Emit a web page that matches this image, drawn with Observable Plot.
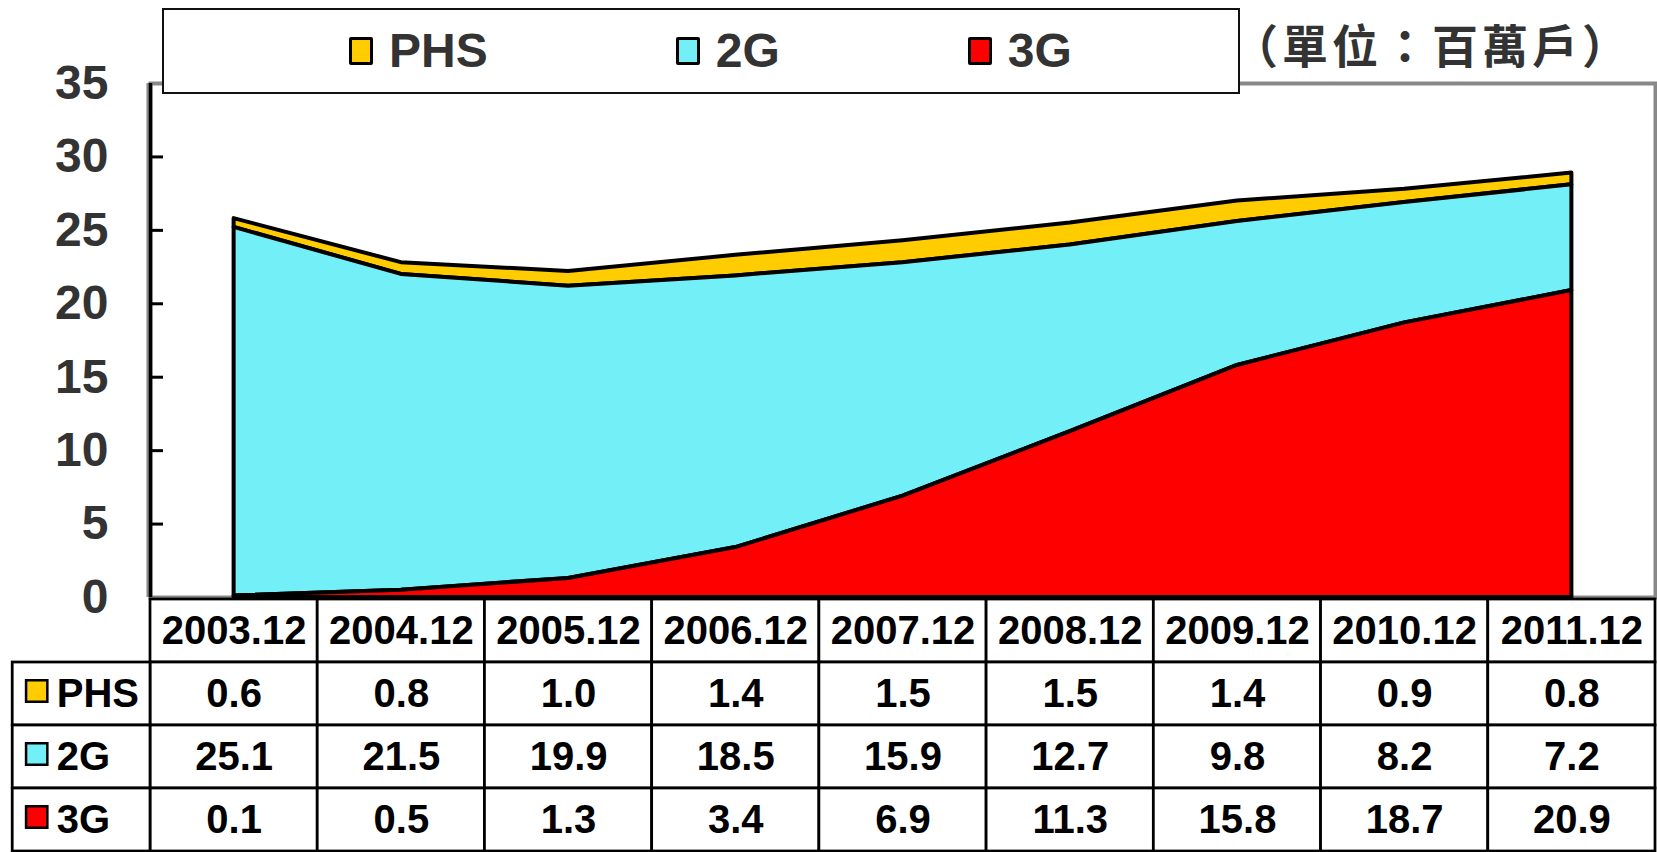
<!DOCTYPE html>
<html>
<head>
<meta charset="utf-8">
<script src="https://cdn.jsdelivr.net/npm/d3@7"></script>
<script src="https://cdn.jsdelivr.net/npm/@observablehq/plot@0.6"></script>
<style>
  body { margin: 0; background: #fff; }
  #wrap { position: relative; width: 1657px; height: 852px; overflow: hidden; font-family: "Liberation Sans", Arial, sans-serif; }
  #chart, #table { position: absolute; left: 0; }
  #chart { top: 0; }
  #table { top: 595px; }
  #legend { position: absolute; left: 162px; top: 8px; width: 1078px; height: 86px; box-sizing: border-box;
            border: 2.5px solid #111; background: #fff; display: flex; align-items: center; padding-left: 185px; gap: 188px; }
  .item { display: flex; align-items: center; }
  .sw { width: 18px; height: 22px; border: 3px solid #000; border-radius: 2px; }
  .lab { margin-left: 16px; font-size: 48px; font-weight: bold; color: #333; line-height: 1; }
  #unit { position: absolute; left: 1232px; top: 16px; font-family: "Noto Sans CJK TC", "Noto Sans CJK SC", sans-serif;
          font-size: 46px; font-weight: 700; color: #333; letter-spacing: 4px; line-height: 1.2; white-space: nowrap; }
</style>
</head>
<body>
<div id="wrap">
  <div id="chart"></div>
  <div id="table"></div>
  <div id="legend"></div>
  <div id="unit">（單位：百萬戶）</div>
</div>
<script>
// ---- data ----
const periods = ["2003.12","2004.12","2005.12","2006.12","2007.12","2008.12","2009.12","2010.12","2011.12"];
const phs = [0.6, 0.8, 1.0, 1.4, 1.5, 1.5, 1.4, 0.9, 0.8];
const g2  = [25.1, 21.5, 19.9, 18.5, 15.9, 12.7, 9.8, 8.2, 7.2];
const g3  = [0.1, 0.5, 1.3, 3.4, 6.9, 11.3, 15.8, 18.7, 20.9];
const seriesNames  = ["PHS", "2G", "3G"];
const seriesColors = ["#FFCC00", "#73EFF8", "#FF0000"];
const yTicks = [0, 5, 10, 15, 20, 25, 30, 35];

const valuesBySeries = { "PHS": phs, "2G": g2, "3G": g3 };
const rows = periods.flatMap((p, i) => seriesNames.map(s => ({ i, period: p, series: s, value: valuesBySeries[s][i] })));

const W = 1657, ML = 150, MR = 2;
const labelColWidth = 0.824; // width of row-label column, in column units
const font = "'Liberation Sans', Arial, sans-serif";

// ---- chart ----
const chart = Plot.plot({
  width: W, height: 640,
  marginTop: 83, marginBottom: 43, marginLeft: ML, marginRight: MR,
  style: { fontFamily: font, background: "transparent" },
  x: { type: "linear", domain: [-0.5, periods.length - 0.5], axis: null },
  y: { domain: [0, 35], axis: null },
  color: { domain: seriesNames, range: seriesColors },
  marks: [
    Plot.frame({ stroke: "#888", strokeWidth: 4 }),
    Plot.areaY(rows, Plot.stackY({ order: ["3G", "2G", "PHS"] }, {
      x: "i", y: "value", z: "series", fill: "series",
      stroke: "#000", strokeWidth: 4, strokeLinejoin: "round"
    })),
    Plot.ruleX([-0.5], { stroke: "#888", strokeWidth: 3, dx: -2.5 }),
    Plot.ruleX([-0.5], { stroke: "#000", strokeWidth: 3.5 }),
    Plot.axisY({ ticks: yTicks.filter(t => t > 0 && t < 35), tickSize: -13, tickFormat: () => "",
                 color: "#000", strokeWidth: 3, label: null }),
    Plot.axisY({ ticks: yTicks, tickSize: 0, tickPadding: 42, fontSize: 48, fontWeight: "bold",
                 color: "#333", label: null })
  ]
});
document.getElementById("chart").append(chart);

// ---- data table ----
const cellStyle = { fill: "#fff", stroke: "#000", strokeWidth: 2.75 };
const textStyle = { fontSize: 40, fontWeight: "bold", fill: "#000" };
const table = Plot.plot({
  width: W, height: 257,
  marginTop: 2, marginBottom: 0, marginLeft: ML, marginRight: MR,
  style: { fontFamily: font, background: "transparent" },
  x: { type: "linear", domain: [-0.5, periods.length - 0.5], axis: null },
  y: { type: "band", domain: ["header", ...seriesNames], padding: 0, axis: null },
  color: { domain: seriesNames, range: seriesColors },
  marks: [
    Plot.barX(periods, { x1: (d, i) => i - 0.5, x2: (d, i) => i + 0.5, y: () => "header", ...cellStyle }),
    Plot.barX(rows, { x1: d => d.i - 0.5, x2: d => d.i + 0.5, y: "series", ...cellStyle }),
    Plot.barX(seriesNames, { x1: -0.5 - labelColWidth, x2: -0.5, y: d => d, ...cellStyle }),
    Plot.text(periods, { x: (d, i) => i, y: () => "header", text: d => d, ...textStyle }),
    Plot.text(rows, { x: "i", y: "series", text: d => d.value.toFixed(1), ...textStyle }),
    Plot.dot(seriesNames, { x: -0.5 - labelColWidth, y: d => d, dx: 24, dy: -3, symbol: "square", r: 12,
                            fill: d => d, stroke: "#000", strokeWidth: 2.5 }),
    Plot.text(seriesNames, { x: -0.5 - labelColWidth, y: d => d, dx: 44, text: d => d, textAnchor: "start", ...textStyle })
  ]
});
document.getElementById("table").append(table);

// ---- legend ----
const legend = document.getElementById("legend");
seriesNames.forEach((s, k) => {
  const item = document.createElement("div");
  item.className = "item";
  const sw = document.createElement("span");
  sw.className = "sw";
  sw.style.background = seriesColors[k];
  const lab = document.createElement("span");
  lab.className = "lab";
  lab.textContent = s;
  item.append(sw, lab);
  legend.append(item);
});
</script>
</body>
</html>
